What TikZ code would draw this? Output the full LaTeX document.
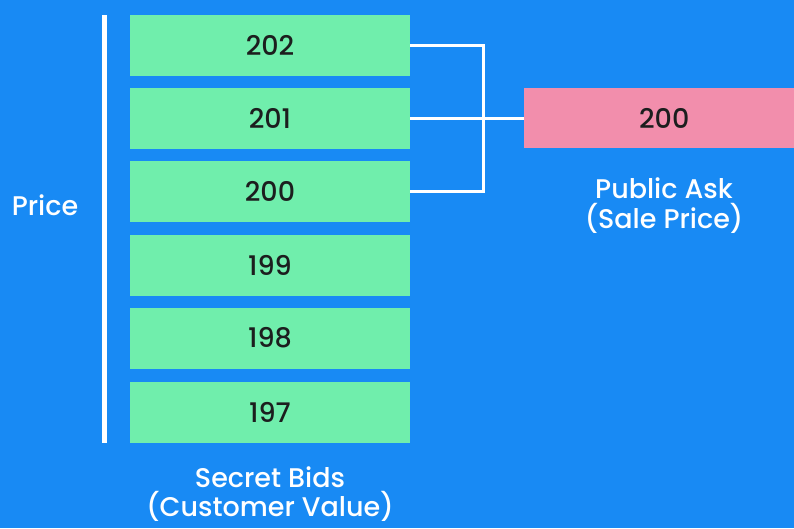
\documentclass[tikz,border=0pt]{standalone}
\usepackage{fontspec}
\setmainfont{Poppins}[UprightFont=* Medium]
\definecolor{bgblue}{RGB}{24,138,244}
\definecolor{bidgreen}{RGB}{112,238,172}
\definecolor{askpink}{RGB}{242,142,172}
\definecolor{numtext}{RGB}{28,30,30}
\begin{document}
\begin{tikzpicture}[x=1pt,y=-1pt,
  bid/.style={fill=bidgreen,draw=none,minimum width=280pt,minimum height=61pt,inner sep=0pt,
    font=\fontsize{27}{30}\selectfont,text=numtext},
  askbox/.style={fill=askpink,draw=none,minimum width=280pt,minimum height=60pt,inner sep=0pt,
    font=\fontsize{27}{30}\selectfont,text=numtext},
  lbl/.style={text=white,font=\fontsize{27}{30}\selectfont,align=center,inner sep=0pt},
  conn/.style={draw=white,line width=3pt}]
\fill[bgblue] (0,0) rectangle (794,528);
\useasboundingbox (0,0) rectangle (794,528);
\begin{scope}
\clip (0,0) rectangle (794,528);
\node[bid] (b202) at (270,45) {202};
\node[bid] (b201) at (270,118) {201};
\node[bid] (b200) at (270,191) {200};
\node[bid] (b199) at (270,265) {199};
\node[bid] (b198) at (270,338) {198};
\node[bid] (b197) at (270,412.5) {197};
\node[askbox,anchor=west] (ask) at (524,118) {200};
\coordinate (axtop) at (104,15);
\coordinate (axbot) at (104,443);
\draw[white,line width=5pt] (axtop) -- (axbot);
\draw[conn] (b202.east) -- ++(73,0) |- (b200.east);
\draw[conn] (b201.east) -- (ask.west);
\node[lbl] (price) at (45,205) {Price};
\node[lbl] (asklbl) at (664,206) {Public Ask\\(Sale Price)};
\node[lbl,font=\fontsize{27}{29}\selectfont] (bidlbl) at (270,494) {Secret Bids\\(Customer Value)};
\end{scope}
\end{tikzpicture}
\end{document}
